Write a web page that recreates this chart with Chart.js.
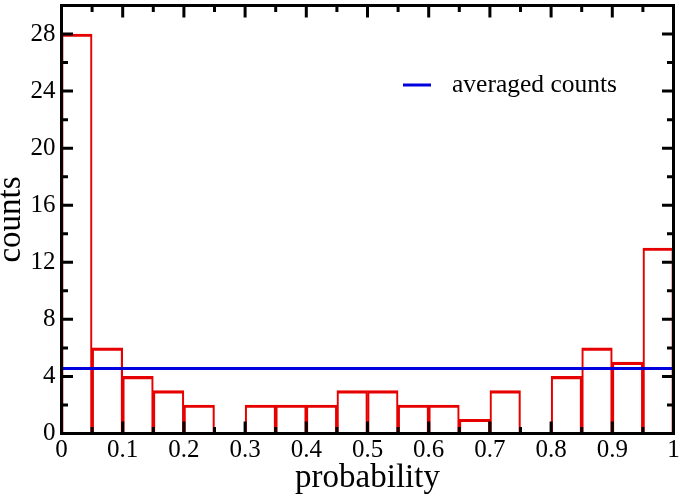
<!DOCTYPE html>
<html>
<head>
<meta charset="utf-8">
<script src="https://cdn.jsdelivr.net/npm/chart.js@4/dist/chart.umd.min.js"></script>
<style>
  html, body { margin: 0; padding: 0; background: #ffffff; }
  #wrap { width: 682px; height: 500px; }
</style>
</head>
<body>
<div id="wrap"><canvas id="c" width="682" height="500"></canvas></div>
<script>
// ---- data ----
const binCenters = [0.025, 0.075, 0.125, 0.175, 0.225, 0.275, 0.325, 0.375, 0.425, 0.475,
                    0.525, 0.575, 0.625, 0.675, 0.725, 0.775, 0.825, 0.875, 0.925, 0.975];
const counts = [28, 6, 4, 3, 2, 0, 2, 2, 2, 3, 3, 2, 2, 1, 3, 0, 4, 6, 5, 13];
const averageX = [0, 1];
const averageY = [4.55, 4.55];
const legendLabel = 'averaged counts';
const xTitle = 'probability';
const yTitle = 'counts';

const FONT = "'Liberation Serif', 'Times New Roman', serif";
const RED = '#e60000';
const BLUE = '#0000dc';

const histData = binCenters.map((x, i) => ({ x: x, y: counts[i] }));
const avgData = averageX.map((x, i) => ({ x: x, y: averageY[i] }));

// inward ticks + frame
const framePlugin = {
  id: 'frame',
  afterDatasetsDraw(chart) {
    const ctx = chart.ctx;
    const a = chart.chartArea;
    const xs = chart.scales.x, ys = chart.scales.y;
    ctx.save();
    ctx.strokeStyle = '#000';
    ctx.lineWidth = 3;
    ctx.lineCap = 'butt';
    const xt = xs.ticks.map(t => t.value);
    const xMinor = [];
    for (let i = 0; i < xt.length - 1; i++) xMinor.push((xt[i] + xt[i + 1]) / 2);
    const drawX = (v, len) => {
      const px = xs.getPixelForValue(v);
      ctx.beginPath();
      ctx.moveTo(px, a.bottom); ctx.lineTo(px, a.bottom - len);
      ctx.moveTo(px, a.top); ctx.lineTo(px, a.top + len);
      ctx.stroke();
    };
    xt.forEach(v => drawX(v, 12));
    xMinor.forEach(v => drawX(v, 6.5));
    const yt = ys.ticks.map(t => t.value);
    const yMinor = [];
    for (let i = 0; i < yt.length - 1; i++) yMinor.push((yt[i] + yt[i + 1]) / 2);
    const drawY = (v, len) => {
      const py = ys.getPixelForValue(v);
      ctx.beginPath();
      ctx.moveTo(a.left, py); ctx.lineTo(a.left + len, py);
      ctx.moveTo(a.right, py); ctx.lineTo(a.right - len, py);
      ctx.stroke();
    };
    yt.forEach(v => drawY(v, 11.5));
    yMinor.forEach(v => drawY(v, 6.5));
    ctx.lineWidth = 3;
    ctx.strokeRect(a.left, a.top, a.right - a.left, a.bottom - a.top);
    ctx.restore();
  }
};

// in-plot legend
const legendPlugin = {
  id: 'inlegend',
  afterDraw(chart) {
    const ctx = chart.ctx;
    const ds = chart.data.datasets[1];
    ctx.save();
    ctx.strokeStyle = ds.borderColor;
    ctx.lineWidth = 3;
    ctx.beginPath();
    ctx.moveTo(403, 85); ctx.lineTo(431, 85);
    ctx.stroke();
    ctx.fillStyle = '#000';
    ctx.font = "25.5px " + FONT;
    ctx.textBaseline = 'middle';
    ctx.textAlign = 'left';
    ctx.fillText(ds.label, 452, 85);
    ctx.restore();
  }
};

new Chart(document.getElementById('c'), {
  type: 'bar',
  data: {
    datasets: [
      {
        type: 'bar',
        label: 'histogram',
        data: histData,
        backgroundColor: 'rgba(0,0,0,0)',
        borderColor: RED,
        borderWidth: { top: 2.5, left: 1.5, right: 1.5, bottom: 0 },
        borderSkipped: false,
        barPercentage: 1.0,
        categoryPercentage: 1.0,
        order: 1
      },
      {
        type: 'line',
        label: legendLabel,
        data: avgData,
        borderColor: BLUE,
        borderWidth: 3,
        pointRadius: 0,
        fill: false,
        order: 0
      }
    ]
  },
  options: {
    responsive: false,
    animation: false,
    devicePixelRatio: 1,
    layout: { padding: { left: 0, right: 8.5, top: 5.5, bottom: 0 } },
    plugins: {
      legend: { display: false },
      tooltip: { enabled: false }
    },
    scales: {
      x: {
        type: 'linear',
        offset: false,
        min: 0,
        max: 1,
        grid: { display: false, drawTicks: false, offset: false },
        border: { display: false },
        ticks: {
          stepSize: 0.1,
          padding: 2,
          color: '#000',
          font: { family: FONT, size: 25 },
          maxRotation: 0,
          autoSkip: false,
          callback: (v) => String(Number(Number(v).toFixed(2)))
        },
        title: {
          display: true,
          text: xTitle,
          color: '#000',
          font: { family: FONT, size: 33, lineHeight: 1 },
          padding: { top: 0, bottom: 5.5 }
        },
        afterFit(s) { s.height = 66.5; s.paddingLeft = 0; s.paddingRight = 0; }
      },
      y: {
        type: 'linear',
        min: 0,
        max: 30,
        grid: { display: false, drawTicks: false },
        border: { display: false },
        ticks: {
          stepSize: 4,
          includeBounds: false,
          padding: 6,
          color: '#000',
          font: { family: FONT, size: 25 }
        },
        title: {
          display: true,
          text: yTitle,
          color: '#000',
          font: { family: FONT, size: 33, lineHeight: 0.7 },
          padding: { top: 0, bottom: 0 }
        },
        afterFit(s) { s.width = 61.5; s.paddingTop = 0; s.paddingBottom = 0; }
      }
    }
  },
  plugins: [framePlugin, legendPlugin]
});
</script>
</body>
</html>
